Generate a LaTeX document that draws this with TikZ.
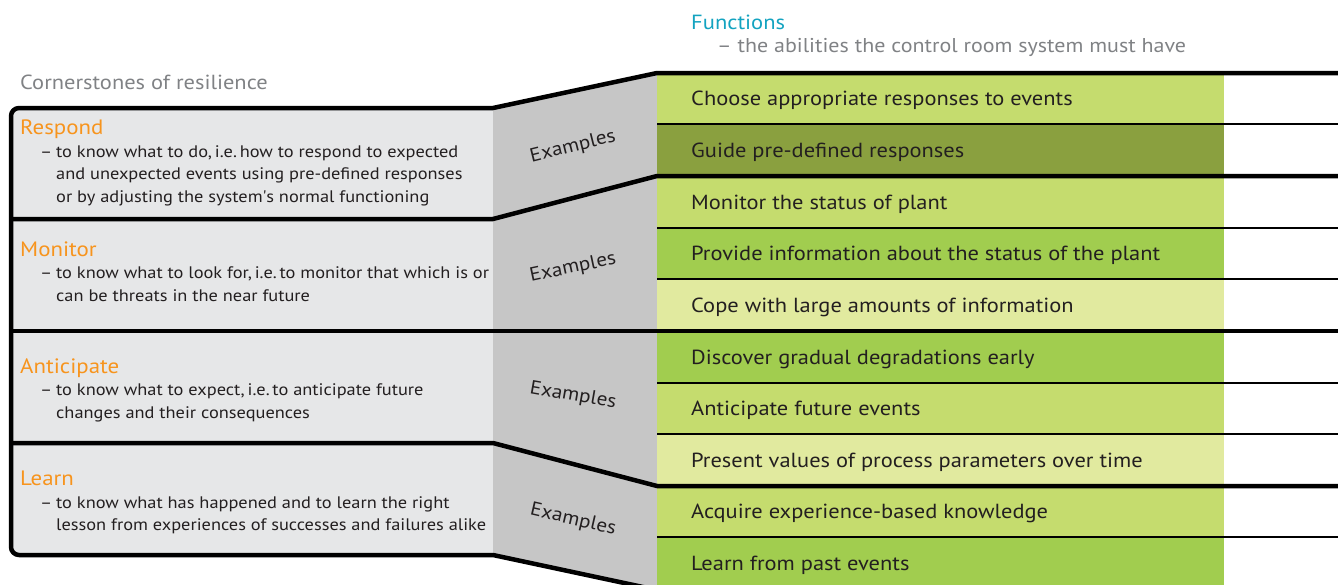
\documentclass[tikz,border=0pt]{standalone}
\usepackage{fontspec}
\setmainfont{PT Sans}[FakeStretch=1.1]
\definecolor{ink}{HTML}{231F20}
\definecolor{boxgray}{HTML}{E6E7E8}
\definecolor{wedgegray}{HTML}{C6C6C6}
\definecolor{lightgreen}{HTML}{C5DC6E}
\definecolor{olive}{HTML}{8AA03F}
\definecolor{midgreen}{HTML}{A1CD4F}
\definecolor{palegreen}{HTML}{E1EA9F}
\definecolor{accent}{HTML}{F7941D}
\definecolor{teal}{HTML}{13A3C0}
\definecolor{titlegray}{HTML}{808285}
\begin{document}
\begin{tikzpicture}[x=1pt,y=-1pt,
  rowtext/.style={anchor=base west, inner sep=0pt, text=ink, font=\fontsize{20.4}{24}\selectfont},
  desc/.style={anchor=base west, inner sep=0pt, text=ink, font=\fontsize{16.7}{20}\selectfont},
  head/.style={anchor=base west, inner sep=0pt, text=accent, font=\fontsize{20.8}{24}\selectfont},
  ex/.style={inner sep=0pt, text=ink, font=\fontsize{19.3}{24}\selectfont},
  groupline/.style={line width=4.5pt, line join=round},
  rowline/.style={line width=2.5pt}]
\useasboundingbox (0,0) rectangle (1338,584);
\clip (0,0) rectangle (1338,584);

% cornerstone panel and the grey wedge leading to the functions
\fill[boxgray, rounded corners=7pt] (11,108) rectangle (505,555);
\fill[wedgegray] (493,108) -- (657,73) -- (657,592) -- (493,555) -- cycle;

% function rows
\fill[lightgreen] (657,73)  rectangle (1224,124);
\fill[olive]      (657,124) rectangle (1224,176);
\fill[lightgreen] (657,176) rectangle (1224,228);
\fill[midgreen]   (657,228) rectangle (1224,279);
\fill[palegreen]  (657,279) rectangle (1224,331);
\fill[midgreen]   (657,331) rectangle (1224,383);
\fill[lightgreen] (657,383) rectangle (1224,434);
\fill[palegreen]  (657,434) rectangle (1224,486);
\fill[lightgreen] (657,486) rectangle (1224,537);
\fill[midgreen]   (657,537) rectangle (1224,590);

% separators between single functions
\foreach \y in {124,228,279,383,434,537}
  \draw[rowline] (657,\y) -- (1338,\y);

% outline and separators between cornerstones
\draw[groupline] (1338,73) -- (657,73) -- (493,108) [rounded corners=8pt] -- (11,108) -- (11,555) [sharp corners] -- (493,555) -- (657,590) -- (1338,590);
\draw[groupline] (11,219) -- (493,219) -- (657,176) -- (1338,176);
\draw[groupline] (11,331) -- (1338,331);
\draw[groupline] (11,443) -- (493,443) -- (657,486) -- (1338,486);

% titles
\node[anchor=base west, inner sep=0pt, text=titlegray, font=\fontsize{20.4}{24}\selectfont] (cstitle) at (20,89) {Cornerstones of resilience};
\node[anchor=base west, inner sep=0pt, text=teal, font=\fontsize{20.5}{24}\selectfont] (ftitle) at (691,29) {Functions};
\node[anchor=base west, inner sep=0pt, text=titlegray, font=\fontsize{20}{24}\selectfont] (fsub) at (717,52) {– the abilities the control room system must have};

% Respond
\node[head] (respond) at (20,134) {Respond};
\node[desc] (rdash) at (40,157) {–};
\node[desc] (r1) at (56,157) {to know what to do,\,i.e.\,how to respond to expected};
\node[desc] (r2) at (56,179.5) {and unexpected events using pre-defined responses};
\node[desc] (r3) at (56,202) {or by adjusting the system\textquotesingle s normal functioning};

% Monitor
\node[head] (monitor) at (20,256) {Monitor};
\node[desc] (mdash) at (40,278.5) {–};
\node[desc] (m1) at (56,278.5) {to know what to look for,\,i.e.\,to monitor that which is or};
\node[desc] (m2) at (56,301) {can be threats in the near future};

% Anticipate
\node[head] (anticipate) at (20,373) {Anticipate};
\node[desc] (adash) at (40,395.5) {–};
\node[desc] (a1) at (56,395.5) {to know what to expect,\,i.e.\,to anticipate future};
\node[desc] (a2) at (56,418) {changes and their consequences};

% Learn
\node[head] (learn) at (20,485) {Learn};
\node[desc] (ldash) at (40,508) {–};
\node[desc] (l1) at (56,508) {to know what has happened and to learn the right};
\node[desc] (l2) at (56,530.5) {lesson from experiences of successes and failures alike};

% example labels on the wedge
\node[ex, rotate=14]  (exr) at (573,147) {Examples};
\node[ex, rotate=12]  (exm) at (573,268) {Examples};
\node[ex, rotate=-10] (exa) at (573,396) {Examples};
\node[ex, rotate=-13] (exl) at (573,520) {Examples};

% functions
\node[rowtext] (f1)  at (691,105.5) {Choose appropriate responses to events};
\node[rowtext] (f2)  at (691,157)   {Guide pre-defined responses};
\node[rowtext] (f3)  at (691,209)   {Monitor the status of plant};
\node[rowtext] (f4)  at (691,260.5) {Provide information about the status of the plant};
\node[rowtext] (f5)  at (691,312)   {Cope with large amounts of information};
\node[rowtext] (f6)  at (691,364)   {Discover gradual degradations early};
\node[rowtext] (f7)  at (691,415.5) {Anticipate future events};
\node[rowtext] (f8)  at (691,467)   {Present values of process parameters over time};
\node[rowtext] (f9)  at (691,518.5) {Acquire experience-based knowledge};
\node[rowtext] (f10) at (691,570)   {Learn from past events};
\end{tikzpicture}
\end{document}
